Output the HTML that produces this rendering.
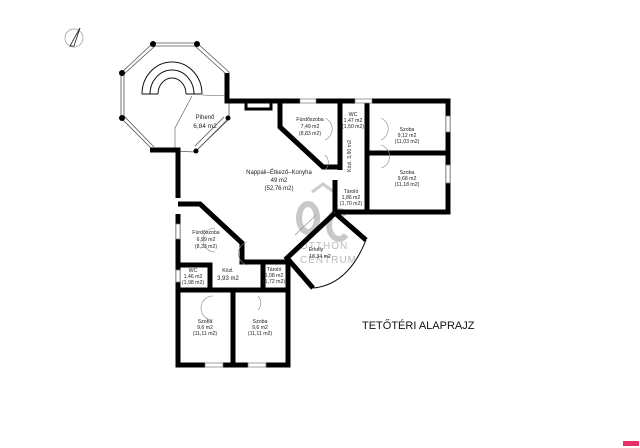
<!DOCTYPE html>
<html><head><meta charset="utf-8"><style>
html,body{margin:0;padding:0;background:#fff;}
svg{display:block;font-family:"Liberation Sans",sans-serif;}
</style></head><body>
<svg width="640" height="448" viewBox="0 0 640 448" xmlns="http://www.w3.org/2000/svg">
<rect width="640" height="448" fill="#fff"/>
<!-- compass -->
<circle cx="74" cy="38" r="9" fill="none" stroke="#999" stroke-width="0.7"/>
<path d="M80 28 L70 46 L74 46 Z" fill="none" stroke="#222" stroke-width="0.8"/>
<!-- watermark -->
<g fill="none" stroke="#c8c8c8" stroke-width="6">
<path d="M308 232 a9 14 0 1 1 0.1 0"/>
<path d="M346 215 a10 14 0 1 0 0 20"/>
</g>
<path d="M312 192 L323 184 L334 192" fill="none" stroke="#ccc" stroke-width="3"/>
<text x="300" y="249" font-size="10" fill="#bbb" letter-spacing="1">OTTHON</text>
<text x="300" y="263" font-size="10" fill="#bbb" letter-spacing="1">CENTRUM</text>
<!-- octagon -->
<g fill="none" stroke="#555" stroke-width="0.8">
<path d="M153 43 L197 43 L229 72 L229 118 L195 152 L153 150 L121 118 L121 73 Z"/>
<path d="M155 46 L195 46 L226 74 M124 74 L124 116 L154 147 M124 74 L155 46"/>
<path d="M228 120 L197 150 M224 117 L195 146"/>
</g>
<g fill="#000">
<circle cx="153" cy="44" r="3"/><circle cx="197" cy="44" r="3"/>
<circle cx="122" cy="73" r="3"/><circle cx="122" cy="118" r="3"/>
<circle cx="228" cy="118" r="2.5"/><circle cx="196" cy="151" r="2.5"/>
</g>
<!-- stair arcs -->
<g fill="none" stroke="#111" stroke-width="1">
<path d="M142 94 A30 32 0 0 1 202 94"/>
<path d="M150 94 A22 24 0 0 1 194 94"/>
<path d="M158 94 A14 16 0 0 1 186 94"/>
<path d="M142 94 L158 94 M186 94 L202 94"/>
</g>
<g fill="none" stroke="#555" stroke-width="0.6">
<path d="M202 95 L228 96 M192 96 L175 128 L175 148"/>
</g>
<!-- walls -->
<g fill="none" stroke="#000" stroke-width="5" stroke-linejoin="miter">
<path d="M227 73 L227 101 L300 101"/>
<path d="M316 101 L355 101 M372 101 L448 101 L448 212 L335 212"/>
<path d="M150 150 L178 150 L178 198 M178 214 L178 365 L205 365 M223 365 L248 365 M266 365 L288 365 L288 262"/>
<path d="M280 101 L280 127 L323 167 L340 167 L340 101"/>
<path d="M340 150 L340 170"/>
<path d="M367 101 L367 212"/>
<path d="M367 153 L448 153"/>
<path d="M335 180 L335 212"/>
<path d="M178 204 L200 204 L242 243 L242 262 L288 262"/>
<path d="M178 265 L210 265 L210 290"/>
<path d="M178 290 L288 290"/>
<path d="M233 290 L233 365"/>
<path d="M263 262 L263 290"/>
<path d="M335 213 L366 240 M335 213 L287 258 L313 288"/>
</g>
<path d="M246 101 L246 109 L271 109 L271 101" fill="none" stroke="#000" stroke-width="3"/>
<path d="M313 288 Q348 285 366 240" fill="none" stroke="#000" stroke-width="1"/>
<!-- windows -->
<g fill="#fff" stroke="#777" stroke-width="0.7">
<rect x="300" y="99" width="16" height="4"/><rect x="355" y="99" width="17" height="4"/>
<rect x="446" y="116" width="4" height="16"/><rect x="446" y="165" width="4" height="18"/>
<rect x="176" y="224" width="4" height="15"/><rect x="176" y="270" width="4" height="12"/>
<rect x="205" y="363" width="18" height="4"/><rect x="248" y="363" width="18" height="4"/>
</g>
<!-- door arcs -->
<g fill="none" stroke="#888" stroke-width="0.6">
<path d="M325 140 A12 12 0 0 0 325 118"/><path d="M381 140 A12 12 0 0 0 381 118"/>
<path d="M381 145 A12 12 0 0 1 381 168"/><path d="M325 170 A10 10 0 0 0 325 155"/>
<path d="M215 252 A12 12 0 0 1 215 228"/><path d="M247 265 A12 12 0 0 1 247 242"/>
<path d="M213 296 A12 12 0 0 0 213 320"/><path d="M258 296 A10 10 0 0 1 258 310"/>
<path d="M295 235 L316 215"/>
</g>
<!-- labels -->
<g font-size="5.2" fill="#222" text-anchor="middle">
<text x="205" y="119" font-size="6">Pihenő</text>
<text x="205" y="128" font-size="6.5">6,84  m2</text>
<text x="310" y="121">Fürdőszoba</text><text x="310" y="128">7,49  m2</text><text x="310" y="135">(8,83 m2)</text>
<text x="353" y="116">WC</text><text x="353" y="122">1,47 m2</text><text x="353" y="128">(1,50 m2)</text>
<text x="407" y="131">Szoba</text><text x="407" y="137">9,12  m2</text><text x="407" y="143">(11,03 m2)</text>
<text x="407" y="174">Szoba</text><text x="407" y="180">9,68  m2</text><text x="407" y="186">(11,18 m2)</text>
<text x="351" y="193">Tároló</text><text x="351" y="199">1,86 m2</text><text x="351" y="205">(1,70 m2)</text>
<text x="279" y="174" font-size="6">Nappali–Étkező–Konyha</text>
<text x="279" y="182" font-size="6">49  m2</text>
<text x="279" y="190" font-size="6">(52,76 m2)</text>
<text x="206" y="234">Fürdőszoba</text><text x="206" y="241">6,99  m2</text><text x="206" y="248">(8,33 m2)</text>
<text x="193" y="272">WC</text><text x="193" y="278">1,46 m2</text><text x="193" y="284">(1,98 m2)</text>
<text x="228" y="272">Közl.</text><text x="228" y="280" font-size="6">3,93  m2</text>
<text x="274" y="271">Tároló</text><text x="274" y="277">1,08 m2</text><text x="274" y="283">(1,72 m2)</text>
<text x="316" y="251">Erkély</text><text x="320" y="258">18,34 m2</text>
<text x="205" y="323">Szoba</text><text x="205" y="329">9,6  m2</text><text x="205" y="335">(11,11 m2)</text>
<text x="260" y="323">Szoba</text><text x="260" y="329">9,6  m2</text><text x="260" y="335">(11,11 m2)</text>
<text transform="translate(351 156) rotate(-90)">Közl. 3,90 m2</text>
</g>
<text x="362" y="329" font-size="11" fill="#111">TETŐTÉRI ALAPRAJZ</text>
<rect x="623" y="441" width="16" height="5" fill="#e8306a"/>
</svg>
</body></html>
